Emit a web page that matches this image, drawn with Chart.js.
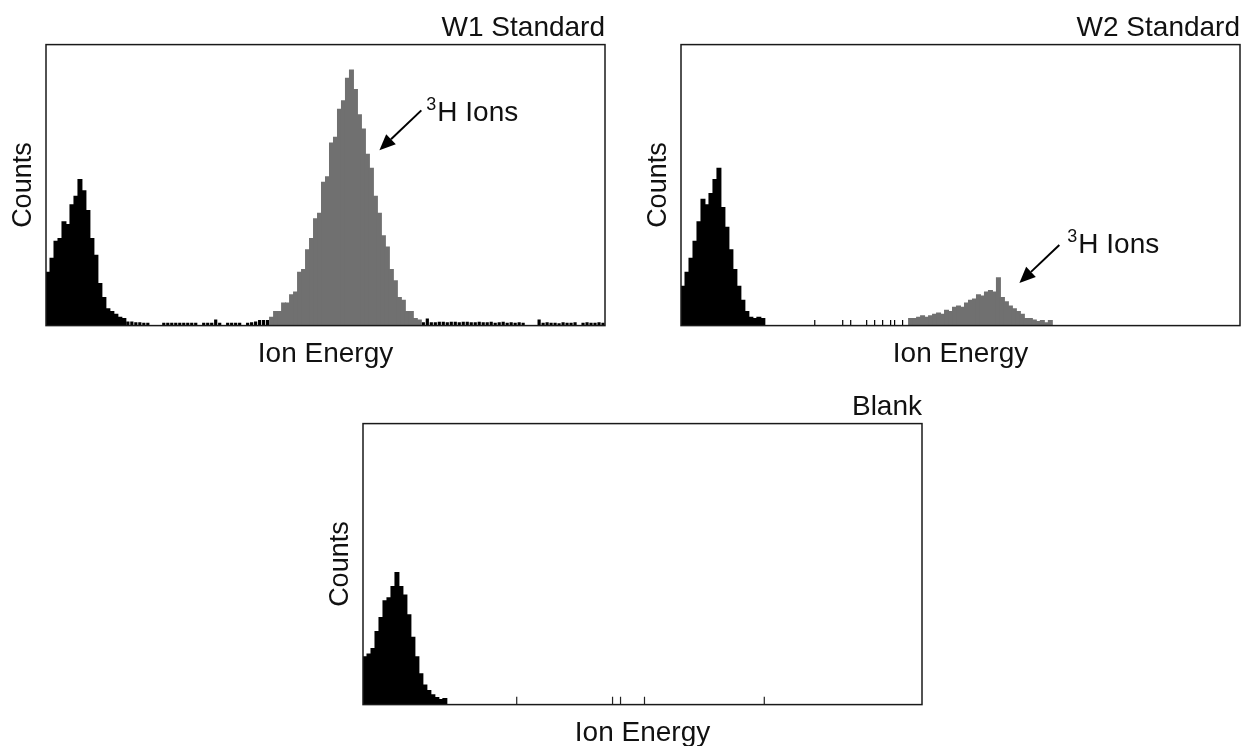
<!DOCTYPE html>
<html>
<head>
<meta charset="utf-8">
<script src="https://cdn.jsdelivr.net/npm/chart.js@4.4.1/dist/chart.umd.min.js"></script>
<style>
  html, body { margin: 0; padding: 0; background: #fff; overflow: hidden; }
  body { width: 1242px; height: 746px; position: relative; }
  .panel { position: absolute; width: 607px; height: 371px; }
</style>
</head>
<body>
<div class="panel" style="left:0;top:0"><canvas id="w1Chart"></canvas></div>
<div class="panel" style="left:635px;top:0"><canvas id="w2Chart"></canvas></div>
<div class="panel" style="left:317px;top:379px"><canvas id="blankChart"></canvas></div>
<script>
// energy bins (channel index), counts in % of full scale
const BINS = 140;
const binLabels = Array.from({length: BINS}, (_, i) => i);

// W1 standard
const w1LowStart = 0;
const w1Low = [19, 24, 30, 31, 37, 36, 43, 46, 52, 48, 41, 31, 25, 15, 10, 6, 5, 4, 3, 2.5];
const w1TritiumStart = 56;
const w1Tritium = [3, 5, 5, 8, 8, 11, 12, 19, 20, 27, 31, 38, 40, 51, 53, 65, 67, 77, 80, 88,
                   91, 84, 75, 70, 61, 56, 46, 40, 32, 28, 20, 16, 10, 9, 5, 5, 2.5, 2];
const w1NoiseLeftStart = 20;
const w1NoiseLeft = [1.5, 1.5, 1.2, 1.2, 1, 1, 0, 0, 0, 1, 1, 1, 1, 1, 1, 1, 1, 1, 0, 1,
                     1, 1, 2.2, 1, 0, 1, 1, 1, 1, 0, 1, 1.2, 1.5, 2, 2, 2];
const w1NoiseRightStart = 94;
const w1NoiseRight = [1.2, 2.5, 1.2, 1.2, 1.4, 1.4, 1.2, 1.4, 1.4, 1.2, 1.4, 1.4, 1.2, 1.2, 1.4, 1.2,
                      1.2, 1.4, 1, 1.2, 1.4, 1, 1.2, 1, 1.2, 1, 0, 0, 0, 2.2, 1, 1.2, 1, 1, 0.8,
                      1.2, 1, 1, 1.2, 0, 1, 1.2, 1, 1, 1.2, 1];

// W2 standard
const w2LowStart = 0;
const w2Low = [14, 19, 24, 30, 37, 45, 43, 47, 52, 56, 42, 35, 27, 20, 14, 9, 5, 3, 2.5, 3, 2.5];
const w2TritiumStart = 57;
const w2Tritium = [2.5, 2.5, 3, 3.5, 3, 3.5, 4, 4.5, 4, 5.5, 5, 6.5, 7, 6.5, 8, 9, 9.5, 11,
                   10.5, 12, 12.5, 12, 17, 10, 8.5, 7, 6, 5, 4, 2.5, 2.5, 2, 1.5, 1.8, 1, 1.8];
const w2Noise = [[33, 2], [40, 2], [42, 2], [46, 2], [48, 2], [50, 2], [52, 2], [53, 2], [55, 2]];

// Blank
const blankLowStart = 0;
const blankLow = [17, 18, 20, 26, 31, 37, 38, 42, 47, 42, 39, 32, 24, 17, 11, 7, 5, 3.5, 2.5, 1.8, 2.2];
const blankNoise = [[38, 2.8], [62, 2.8], [64, 2.8], [70, 2.8], [100, 2.8]];

// arrow: tip bin, tip value, tail bin, tail value ; label: bin, baseline value
const w1Arrow = [83, 62.4, 93.5, 76.6];
const w1Label = [94.75, 72.7];
const w2Arrow = [84.25, 15.2, 94.25, 28.7];
const w2Label = [96.25, 25.9];

const FONT = "'Liberation Sans', Arial, Helvetica, sans-serif";
Chart.defaults.font.family = FONT;

function binned(...segs) {
    const out = new Array(BINS).fill(null);
    segs.forEach(([start, counts]) => {
        counts.forEach((c, i) => { if (c) out[start + i] = c; });
    });
    return out;
}
function fromPairs(pairs) {
    const out = new Array(BINS).fill(null);
    pairs.forEach(([i, c]) => { out[i] = c; });
    return out;
}

const frame = {
    id: 'frame',
    afterDatasetsDraw(chart) {
        const {ctx, chartArea: a} = chart;
        ctx.save();
        ctx.strokeStyle = '#1a1a1a';
        ctx.lineWidth = 1.5;
        ctx.strokeRect(a.left, a.top, a.right - a.left, a.bottom - a.top);
        ctx.restore();
    }
};

const annotate = {
    id: 'annotate',
    afterDatasetsDraw(chart, args, opts) {
        if (!opts.arrow) return;
        const {ctx} = chart;
        const {x, y} = chart.scales;
        const tx = x.getPixelForValue(opts.arrow[0]), ty = y.getPixelForValue(opts.arrow[1]);
        const sx = x.getPixelForValue(opts.arrow[2]), sy = y.getPixelForValue(opts.arrow[3]);
        const ang = Math.atan2(ty - sy, tx - sx);
        const head = 16, half = 7;
        const bx = tx - head * Math.cos(ang), by = ty - head * Math.sin(ang);
        ctx.save();
        ctx.strokeStyle = '#000';
        ctx.fillStyle = '#000';
        ctx.lineWidth = 2;
        ctx.beginPath();
        ctx.moveTo(sx, sy);
        ctx.lineTo(bx, by);
        ctx.stroke();
        ctx.beginPath();
        ctx.moveTo(tx, ty);
        ctx.lineTo(bx + half * Math.sin(ang), by - half * Math.cos(ang));
        ctx.lineTo(bx - half * Math.sin(ang), by + half * Math.cos(ang));
        ctx.closePath();
        ctx.fill();

        const lx = x.getPixelForValue(opts.label[0]), ly = y.getPixelForValue(opts.label[1]);
        ctx.fillStyle = '#111';
        ctx.textBaseline = 'alphabetic';
        ctx.font = '18px ' + FONT;
        ctx.fillText('3', lx, ly - 11);
        const w = ctx.measureText('3').width;
        ctx.font = '28px ' + FONT;
        ctx.fillText('H Ions', lx + w + 1, ly);
        ctx.restore();
    }
};

function makeChart(id, title, datasets, note) {
    return new Chart(document.getElementById(id), {
        type: 'bar',
        data: { labels: binLabels, datasets: datasets },
        options: {
            responsive: true,
            maintainAspectRatio: false,
            animation: false,
            layout: { padding: { left: 0, right: 2, top: 0, bottom: 0 } },
            scales: {
                x: {
                    ticks: { display: false },
                    grid: { display: false, drawTicks: false },
                    border: { display: false },
                    title: { display: true, text: 'Ion Energy', color: '#111',
                             font: { size: 28 }, padding: { top: 11.8, bottom: 0 } }
                },
                y: {
                    min: 0, max: 100,
                    ticks: { display: false },
                    grid: { display: false, drawTicks: false },
                    border: { display: false },
                    title: { display: true, text: 'Counts', color: '#111',
                             font: { size: 27 }, padding: { top: 7, bottom: 6.6 } }
                }
            },
            plugins: {
                legend: { display: false },
                tooltip: { enabled: false },
                title: { display: true, text: title, align: 'end', color: '#111',
                         font: { size: 28, weight: 'normal' }, padding: { top: 11, bottom: 0 } },
                annotate: note
            }
        },
        plugins: [frame, annotate]
    });
}

function bars(data, color, order, width) {
    return { data: data, backgroundColor: color, borderWidth: 0, grouped: false, order: order,
             barPercentage: width, categoryPercentage: 1, inflateAmount: width === 1 ? 0.5 : 0 };
}

makeChart('w1Chart', 'W1 Standard', [
    bars(binned([w1TritiumStart, w1Tritium]), '#707070', 0, 1),
    bars(binned([w1LowStart, w1Low]), '#000', 1, 1),
    bars(binned([w1NoiseLeftStart, w1NoiseLeft], [w1NoiseRightStart, w1NoiseRight]), '#000', 2, 0.8)
], { arrow: w1Arrow, label: w1Label });

makeChart('w2Chart', 'W2 Standard', [
    bars(binned([w2TritiumStart, w2Tritium]), '#707070', 0, 1),
    bars(binned([w2LowStart, w2Low]), '#000', 1, 1),
    bars(fromPairs(w2Noise), '#000', 2, 0.3)
], { arrow: w2Arrow, label: w2Label });

makeChart('blankChart', 'Blank', [
    bars(binned([blankLowStart, blankLow]), '#000', 1, 1),
    bars(fromPairs(blankNoise), '#222', 2, 0.3)
], {});
</script>
</body>
</html>
